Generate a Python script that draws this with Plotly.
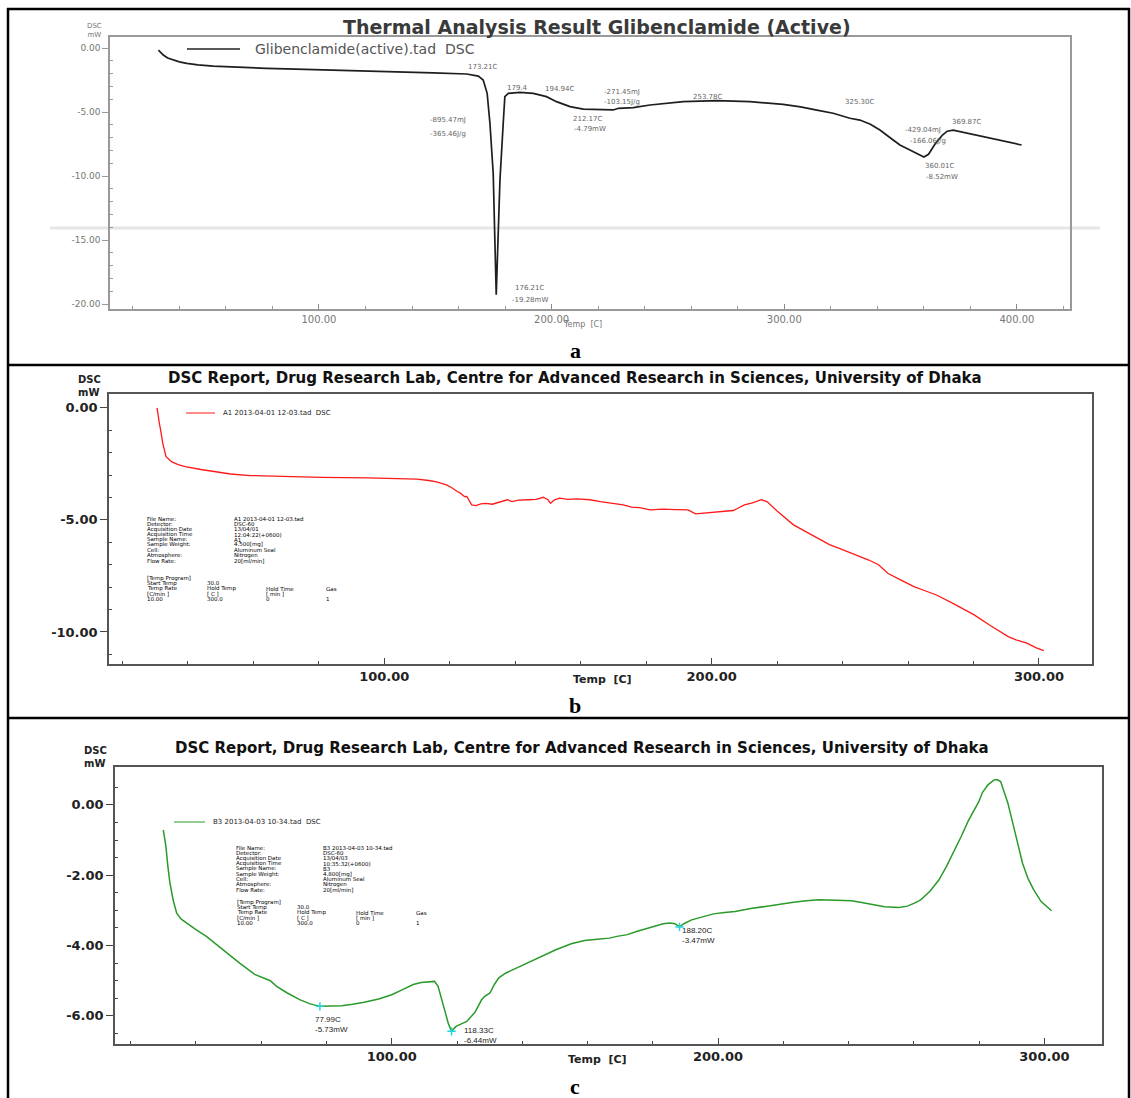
import plotly.graph_objects as go

W, H = 1131, 1098

# ---------------- data ----------------
a_temp = [31.0, 33.1, 35.0, 37.4, 40.0, 43.2, 48.0, 54.6, 65.0, 77.5, 90.0, 106.2, 120.0, 134.8,
          149.1, 163.5, 168.5, 170.6, 172.3, 173.5, 174.9, 176.2, 177.8, 179.2, 179.9, 181.4,
          186.4, 192.1, 197.8, 202.1, 207.9, 213.6, 220.8, 226.5, 228.7, 235.1, 242.3, 256.6,
          271.0, 285.2, 299.5, 307.0, 314.0, 321.0, 328.2, 332.5, 337.0, 341.1, 346.8, 349.7,
          354.0, 358.0, 360.0, 362.0, 365.0, 368.0, 370.0, 372.6, 385.5, 402.0]
a_dsc = [-0.16, -0.55, -0.78, -0.94, -1.08, -1.2, -1.32, -1.41, -1.51, -1.59, -1.65, -1.72, -1.79, -1.87,
         -1.95, -2.03, -2.19, -2.5, -3.54, -5.9, -9.8, -19.28, -10.3, -5.9, -3.8, -3.54,
         -3.46, -3.54, -3.8, -4.19, -4.58, -4.77, -4.79, -4.84, -4.71, -4.66, -4.45, -4.19,
         -4.11, -4.19, -4.4, -4.6, -4.85, -5.1, -5.49, -5.63, -5.95, -6.41, -7.19, -7.58,
         -7.97, -8.35, -8.52, -8.3, -7.45, -6.8, -6.5, -6.41, -6.93, -7.58]

b_temp = [30.6, 31.0, 31.2, 31.8, 32.3, 33.3, 35.0, 37.0, 39.2, 44.0, 48.0, 53.0, 59.0, 70.0, 80.8,
          95.0, 106.0, 110.0, 113.6, 116.0, 119.0, 120.5, 122.3, 123.0, 124.5, 125.2, 126.7, 128.0,
          129.5, 131.0, 133.0, 135.0, 137.6, 139.0, 141.0, 144.0, 146.4, 148.6, 150.0, 150.8, 152.0,
          153.6, 156.0, 159.0, 162.8, 166.0, 170.9, 173.0, 175.5, 178.0, 181.2, 185.0, 189.0, 192.8,
          195.1, 198.0, 201.0, 204.0, 206.6, 208.0, 210.0, 212.5, 215.2, 216.9, 220.0, 225.0, 229.0,
          233.0, 236.0, 238.8, 243.0, 248.0, 251.0, 253.8, 258.0, 261.8, 265.0, 268.7, 274.0, 280.2,
          285.0, 290.6, 293.0, 296.3, 299.0, 301.5]
b_dsc = [0.0, -0.3, -0.61, -1.1, -1.56, -2.17, -2.4, -2.53, -2.62, -2.75, -2.84, -2.95, -3.02, -3.07,
         -3.1, -3.12, -3.14, -3.18, -3.24, -3.3, -3.44, -3.55, -3.73, -3.78, -3.96, -3.95, -4.33,
         -4.36, -4.28, -4.26, -4.3, -4.2, -4.1, -4.18, -4.12, -4.1, -4.08, -3.99, -4.1, -4.26, -4.1,
         -4.03, -4.08, -4.06, -4.1, -4.18, -4.29, -4.33, -4.43, -4.45, -4.55, -4.52, -4.54, -4.55,
         -4.73, -4.7, -4.66, -4.64, -4.58, -4.48, -4.33, -4.24, -4.1, -4.18, -4.6, -5.22, -5.55,
         -5.89, -6.1, -6.26, -6.5, -6.79, -7.0, -7.38, -7.7, -7.98, -8.15, -8.35, -8.75, -9.24,
         -9.7, -10.21, -10.35, -10.5, -10.7, -10.83]

c_temp = [30.0, 30.8, 31.4, 32.0, 33.0, 34.1, 35.5, 37.1, 40.0, 43.2, 48.0, 53.4, 58.0, 62.8, 64.7,
          68.0, 71.8, 75.0, 78.0, 81.0, 84.7, 88.0, 91.2, 96.0, 100.0, 103.0, 106.6, 109.0, 111.0,
          113.1, 114.2, 115.3, 116.4, 117.3, 118.3, 119.7, 121.5, 123.0, 125.5, 127.5, 128.4, 130.1,
          131.5, 132.8, 135.0, 139.4, 145.0, 150.3, 155.0, 159.1, 163.0, 166.7, 169.0, 172.2, 175.0,
          178.5, 181.0, 183.2, 185.2, 186.8, 188.2, 189.5, 191.9, 195.0, 198.6, 202.0, 205.2, 210.0,
          214.2, 219.0, 223.1, 227.0, 230.9, 236.0, 240.9, 244.0, 247.6, 251.0, 255.4, 258.0, 260.0,
          262.1, 265.0, 267.7, 270.0, 272.1, 274.5, 276.6, 278.5, 279.9, 281.0, 282.7, 284.6, 285.5,
          286.6, 287.8, 288.8, 290.0, 291.1, 292.2, 293.3, 295.0, 296.7, 299.0, 302.2]
c_dsc = [-0.71, -1.18, -1.75, -2.2, -2.7, -3.08, -3.25, -3.36, -3.55, -3.74, -4.1, -4.5, -4.82, -5.0,
         -5.16, -5.35, -5.54, -5.66, -5.73, -5.72, -5.71, -5.67, -5.62, -5.52, -5.4, -5.27, -5.11,
         -5.05, -5.04, -5.02, -5.16, -5.55, -5.92, -6.2, -6.44, -6.3, -6.22, -6.16, -5.9, -5.55,
         -5.45, -5.35, -5.1, -4.92, -4.78, -4.59, -4.35, -4.12, -3.95, -3.86, -3.82, -3.79, -3.74,
         -3.69, -3.6, -3.5, -3.44, -3.38, -3.36, -3.38, -3.47, -3.38, -3.27, -3.2, -3.1, -3.06,
         -3.03, -2.95, -2.89, -2.83, -2.77, -2.73, -2.7, -2.71, -2.73, -2.78, -2.84, -2.9, -2.92,
         -2.88, -2.8, -2.7, -2.45, -2.13, -1.75, -1.37, -0.9, -0.47, -0.15, 0.09, 0.35, 0.57, 0.71,
         0.72, 0.66, 0.35, 0.05, -0.4, -0.8, -1.25, -1.66, -2.1, -2.41, -2.75, -3.01]

c_peak_temp = [77.99, 118.33, 188.20]
c_peak_dsc = [-5.73, -6.44, -3.47]
c_peak_labels = ["77.99C<br>-5.73mW", "118.33C<br>-6.44mW", "188.20C<br>-3.47mW"]

a_x_ticks = [100, 200, 300, 400]
a_x_ticktext = ["100.00", "200.00", "300.00", "400.00"]
a_y_ticks = [0, -5, -10, -15, -20]
a_y_ticktext = ["0.00", "-5.00", "-10.00", "-15.00", "-20.00"]
bc_x_ticks = [100, 200, 300]
bc_x_ticktext = ["100.00", "200.00", "300.00"]
b_y_ticks = [0, -5, -10]
b_y_ticktext = ["0.00", "-5.00", "-10.00"]
c_y_ticks = [0, -2, -4, -6]
c_y_ticktext = ["0.00", "-2.00", "-4.00", "-6.00"]

a_labels = [  # text, temp, dsc
    ("173.21C", 170.5, -1.48), ("179.4", 185.5, -3.13), ("194.94C", 203.6, -3.2),
    ("-271.45mJ", 230.2, -3.44), ("-103.15J/g", 230.2, -4.22), ("253.78C", 266.8, -3.83),
    ("-895.47mJ", 155.5, -5.63), ("-365.46J/g", 155.5, -6.72), ("212.17C", 215.6, -5.55),
    ("-4.79mW", 216.5, -6.33), ("325.30C", 332.5, -4.22), ("-429.04mJ", 359.6, -6.41),
    ("-166.06J/g", 361.7, -7.27), ("369.87C", 378.5, -5.78), ("360.01C", 366.9, -9.22),
    ("-8.52mW", 367.7, -10.08), ("176.21C", 190.7, -18.75), ("-19.28mW", 190.7, -19.69),
]

info_labels = ["File Name:", "Detector:", "Acquisition Date", "Acquisition Time", "Sample Name:",
               "Sample Weight:", "Cell:", "Atmosphere:", "Flow Rate:"]
b_info_values = ["A1 2013-04-01 12-03.tad", "DSC-60", "13/04/01", "12:04:22(+0600)", "A1",
                 "4.500[mg]", "Aluminum Seal", "Nitrogen", "20[ml/min]"]
c_info_values = ["B3 2013-04-03 10-34.tad", "DSC-60", "13/04/03", "10:35:32(+0600)", "B3",
                 "4.800[mg]", "Aluminum Seal", "Nitrogen", "20[ml/min]"]
temp_program = [["[Temp Program]"], ["Start Temp", "30.0"],
                ["Temp Rate", "Hold Temp", "Hold Time", "Gas"],
                ["[C/min ]", "[ C ]", "[ min ]"], ["10.00", "300.0", "0", "1"]]

title_a = "Thermal Analysis Result Glibenclamide (Active)"
title_bc = "DSC Report, Drug Research Lab, Centre for Advanced Research in Sciences, University of Dhaka"
legend_a = "Glibenclamide(active).tad  DSC"
legend_b = "A1 2013-04-01 12-03.tad  DSC"
legend_c = "B3 2013-04-03 10-34.tad  DSC"


def X(p):
    return p / W


def Y(p):
    return 1 - p / H


fig = go.Figure()
fig.add_trace(go.Scatter(x=a_temp, y=a_dsc, mode="lines", xaxis="x", yaxis="y",
                         line=dict(color="#1e1e1e", width=1.7), showlegend=False))
fig.add_trace(go.Scatter(x=b_temp, y=b_dsc, mode="lines", xaxis="x2", yaxis="y2",
                         line=dict(color="#ff1a1a", width=1.3), showlegend=False))
fig.add_trace(go.Scatter(x=c_temp, y=c_dsc, mode="lines", xaxis="x3", yaxis="y3",
                         line=dict(color="#2a9a2a", width=1.5), showlegend=False))
fig.add_trace(go.Scatter(x=c_peak_temp, y=c_peak_dsc, mode="markers", xaxis="x3", yaxis="y3",
                         marker=dict(symbol="cross-thin", size=6, line=dict(color="#22d3e0", width=1.5)),
                         showlegend=False))

BOLD13 = dict(family="DejaVu Sans", size=13, color="#222", weight="bold")


def axis_common(color, width):
    return dict(showline=True, linecolor=color, linewidth=width, mirror=True, showgrid=False,
                zeroline=False)


layout = dict(
    width=W, height=H, margin=dict(l=0, r=0, t=0, b=0),
    paper_bgcolor="white", plot_bgcolor="white", showlegend=False,
    # ---- panel a ----
    xaxis=dict(domain=[X(110), X(1070)], range=[10.2, 422.8], anchor="y",
               tickmode="array", tickvals=a_x_ticks, ticktext=a_x_ticktext,
               ticks="inside", ticklen=5, tickcolor="#888",
               tickfont=dict(family="DejaVu Sans", size=10, color="#777"),
               minor=dict(tickmode="array", tickvals=[20, 40, 60, 80, 120, 140, 160, 180, 220, 240, 260, 280,
                                                      320, 340, 360, 380, 420],
                          ticks="inside", ticklen=3, tickcolor="#999"),
               **axis_common("#999", 1.5)),
    yaxis=dict(domain=[Y(309), Y(37)], range=[-20.39, 0.86], anchor="x",
               tickmode="array", tickvals=a_y_ticks, ticktext=a_y_ticktext,
               ticks="outside", ticklen=6, tickcolor="#999",
               tickfont=dict(family="DejaVu Sans", size=9, color="#777"),
               minor=dict(tickmode="array", tickvals=[v for v in range(-20, 1) if v % 5 != 0],
                          ticks="inside", ticklen=3, tickcolor="#999"),
               **axis_common("#999", 1.5)),
    # ---- panel b ----
    xaxis2=dict(domain=[X(109), X(1092)], range=[15.9, 316.2], anchor="y2",
                tickmode="array", tickvals=bc_x_ticks, ticktext=bc_x_ticktext,
                ticks="inside", ticklen=6, tickcolor="#444", tickfont=BOLD13,
                minor=dict(tickmode="array", tickvals=[20, 40, 60, 80, 120, 140, 160, 180, 220, 240, 260, 280],
                           ticks="inside", ticklen=3, tickcolor="#444"),
                **axis_common("#555", 1.5)),
    yaxis2=dict(domain=[Y(664), Y(394)], range=[-11.43, 0.62], anchor="x2",
                tickmode="array", tickvals=b_y_ticks, ticktext=b_y_ticktext,
                ticks="outside", ticklen=7, tickcolor="#444", tickfont=BOLD13,
                minor=dict(tickmode="array", tickvals=[-1, -2, -3, -4, -6, -7, -8, -9, -11],
                           ticks="inside", ticklen=3, tickcolor="#444"),
                **axis_common("#555", 1.5)),
    # ---- panel c ----
    xaxis3=dict(domain=[X(115), X(1101.5)], range=[15.2, 317.5], anchor="y3",
                tickmode="array", tickvals=bc_x_ticks, ticktext=bc_x_ticktext,
                ticks="inside", ticklen=6, tickcolor="#444", tickfont=BOLD13,
                minor=dict(tickmode="array", tickvals=[20, 40, 60, 80, 120, 140, 160, 180, 220, 240, 260, 280],
                           ticks="inside", ticklen=3, tickcolor="#444"),
                **axis_common("#555", 1.5)),
    yaxis3=dict(domain=[Y(1044), Y(766.5)], range=[-6.8, 1.09], anchor="x3",
                tickmode="array", tickvals=c_y_ticks, ticktext=c_y_ticktext,
                ticks="outside", ticklen=7, tickcolor="#444", tickfont=BOLD13,
                minor=dict(tickmode="array", tickvals=[0.5, -0.5, -1, -1.5, -2.5, -3, -3.5, -4.5, -5, -5.5, -6.5],
                           ticks="inside", ticklen=3, tickcolor="#444"),
                **axis_common("#555", 1.5)),
)
fig.update_layout(**layout)

shapes = []
# table borders
for y0 in [9, 365, 718]:
    shapes.append(dict(type="line", xref="paper", yref="paper", x0=X(7), x1=X(1130), y0=Y(y0), y1=Y(y0),
                       line=dict(color="black", width=2.5)))
for x0 in [8, 1129]:
    shapes.append(dict(type="line", xref="paper", yref="paper", x0=X(x0), x1=X(x0), y0=Y(8), y1=Y(1098),
                       line=dict(color="black", width=2.5)))
# faint scan band in panel a
shapes.append(dict(type="line", xref="paper", yref="paper", x0=X(50), x1=X(1100), y0=Y(228), y1=Y(228),
                   line=dict(color="#e6e6e6", width=3), layer="below"))
# legend samples
shapes.append(dict(type="line", xref="paper", yref="paper", x0=X(187), x1=X(240), y0=Y(49), y1=Y(49),
                   line=dict(color="#222", width=1.6)))
shapes.append(dict(type="line", xref="paper", yref="paper", x0=X(186), x1=X(215), y0=Y(413), y1=Y(413),
                   line=dict(color="#ff1a1a", width=1)))
shapes.append(dict(type="line", xref="paper", yref="paper", x0=X(174), x1=X(205), y0=Y(822), y1=Y(822),
                   line=dict(color="#2a9a2a", width=1)))

ann = []


def txt(text, x, y, size, color="#222", family="DejaVu Sans", weight="normal", xanchor="center",
        yanchor="middle", xref="paper", yref="paper", align="center"):
    ann.append(dict(text=text, x=x, y=y, xref=xref, yref=yref, showarrow=False, xanchor=xanchor,
                    yanchor=yanchor, align=align,
                    font=dict(size=size, color=color, family=family, weight=weight)))


# titles
txt(title_a, X(597), Y(27), 19, color="#3a3a3a", weight="bold")
txt(title_bc, X(575), Y(378), 15, color="#111", weight="bold")
txt(title_bc, X(582), Y(748), 15, color="#111", weight="bold")
# axis captions
txt("DSC<br>mW", X(95), Y(31), 7, color="#777")
txt("Temp  [C]", X(582), Y(324), 8, color="#777")
txt("DSC<br>mW", X(76), Y(386), 10, color="#222", weight="bold", xanchor="left", align="left")
txt("Temp  [C]", X(602), Y(679), 11, color="#222", weight="bold")
txt("DSC<br>mW", X(82), Y(757), 10, color="#222", weight="bold", xanchor="left", align="left")
txt("Temp  [C]", X(597), Y(1059), 11, color="#222", weight="bold")
# panel letters
for letter, yy in [("a", 350), ("b", 705), ("c", 1086)]:
    txt(letter, X(575), Y(yy), 22, color="black", family="Liberation Serif", weight="bold")
# legends
txt(legend_a, X(253), Y(49), 14, color="#555", xanchor="left")
txt(legend_b, X(221), Y(413), 7, color="#222", xanchor="left")
txt(legend_c, X(211), Y(822), 7, color="#222", xanchor="left")
# panel a peak labels
for t, xx, yy in a_labels:
    txt(t, xx, yy, 7, color="#666", xref="x", yref="y")
# panel c peak labels
offsets = [(-2.2, -0.2), (3.1, 0.22), (0.0, 0.08)]
for (t, xx, yy), (dx, dy) in zip(zip(c_peak_labels, c_peak_temp, c_peak_dsc), offsets):
    txt(t, xx + dx, yy + dy, 8, color="#222", family="Liberation Sans", xanchor="left", yanchor="top",
        xref="x3", yref="y3", align="left")
# info blocks
for (lx, vx, y0, ty0, cols, vals) in [(145, 232, 519, 578, [145, 205, 264, 324], b_info_values),
                                        (234, 321, 848, 902, [235, 295, 354, 414], c_info_values)]:
    for i, (lab, val) in enumerate(zip(info_labels, vals)):
        yy = y0 + i * 5.2
        txt(lab, X(lx), Y(yy), 5.5, color="#000", xanchor="left")
        txt(val, X(vx), Y(yy), 5.5, color="#000", xanchor="left")
    for r, row in enumerate(temp_program):
        yy = ty0 + r * 5.3
        for c, cell in enumerate(row):
            txt(cell, X(cols[c]), Y(yy), 5.5, color="#000", xanchor="left")

fig.update_layout(shapes=shapes, annotations=ann)
fig.write_html("out.html")
